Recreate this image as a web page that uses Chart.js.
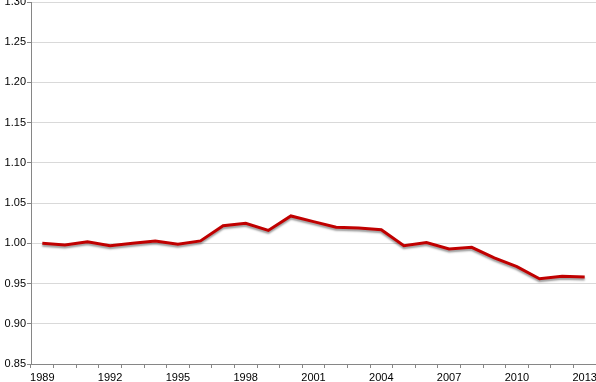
<!DOCTYPE html>
<html>
<head>
<meta charset="utf-8">
<script src="https://cdn.jsdelivr.net/npm/chart.js@4/dist/chart.umd.min.js"></script>
<style>
  html, body { margin: 0; padding: 0; background: #fff; }
  #wrap { width: 596px; height: 382px; position: relative; }
</style>
</head>
<body>
<div id="wrap"><canvas id="chart"></canvas></div>
<script>
// years on the category axis
var years = [1989, 1990, 1991, 1992, 1993, 1994, 1995, 1996, 1997, 1998, 1999, 2000, 2001,
             2002, 2003, 2004, 2005, 2006, 2007, 2008, 2009, 2010, 2011, 2012, 2013];
// index values
var values = [1.000, 0.998, 1.002, 0.997, 1.000, 1.003, 0.999, 1.003, 1.022, 1.025, 1.016, 1.034, 1.027,
              1.020, 1.019, 1.017, 0.997, 1.001, 0.993, 0.995, 0.982, 0.971, 0.956, 0.959, 0.958];
// y axis range
var yMin = 0.85, yMax = 1.30, yStep = 0.05;

/** soft gray shadow under the line, like the office chart */
var shadowPlugin = {
  id: 'lineShadow',
  beforeDatasetDraw: function(chart) {
    var ctx = chart.ctx;
    ctx.save();
    ctx.shadowColor = 'rgba(0,0,0,0.4)';
    ctx.shadowBlur = 2;
    ctx.shadowOffsetX = 0;
    ctx.shadowOffsetY = 2;
  },
  afterDatasetDraw: function(chart) {
    chart.ctx.restore();
  }
};

Chart.defaults.font.family = '"Liberation Sans", Arial, sans-serif';
Chart.defaults.font.size = 11;
Chart.defaults.color = '#000';

var ctx = document.getElementById('chart').getContext('2d');
window.chart = new Chart(ctx, {
  type: 'line',
  data: {
    labels: years,
    datasets: [{
      data: values,
      borderColor: '#c00000',
      borderWidth: 3,
      pointRadius: 0,
      fill: false,
      tension: 0
    }]
  },
  plugins: [shadowPlugin],
  options: {
    responsive: true,
    maintainAspectRatio: false,
    animation: false,
    layout: { padding: { top: 2, left: 0, right: 0, bottom: 0 } },
    plugins: { legend: { display: false }, tooltip: { enabled: false } },
    scales: {
      x: {
        type: 'category',
        offset: true,
        border: { color: '#868686', width: 1 },
        grid: { offset: true, drawOnChartArea: false, drawTicks: true, tickLength: 4, color: '#868686' },
        ticks: {
          autoSkip: false,
          maxRotation: 0,
          padding: 3,
          callback: function(v, i) { return i % 3 === 0 ? years[i] : ''; }
        },
        afterFit: function(scale) { scale.height = 18; scale.paddingLeft = 0; scale.paddingRight = 0; }
      },
      y: {
        min: yMin,
        max: yMax,
        border: { color: '#868686', width: 1 },
        grid: { color: '#d9d9d9', tickColor: '#868686', tickLength: 4 },
        ticks: {
          stepSize: yStep,
          padding: 1,
          callback: function(v) { return v.toFixed(2); }
        },
        afterFit: function(scale) { scale.width = 31; scale.paddingTop = 0; scale.paddingBottom = 0; }
      }
    }
  }
});
</script>
</body>
</html>
